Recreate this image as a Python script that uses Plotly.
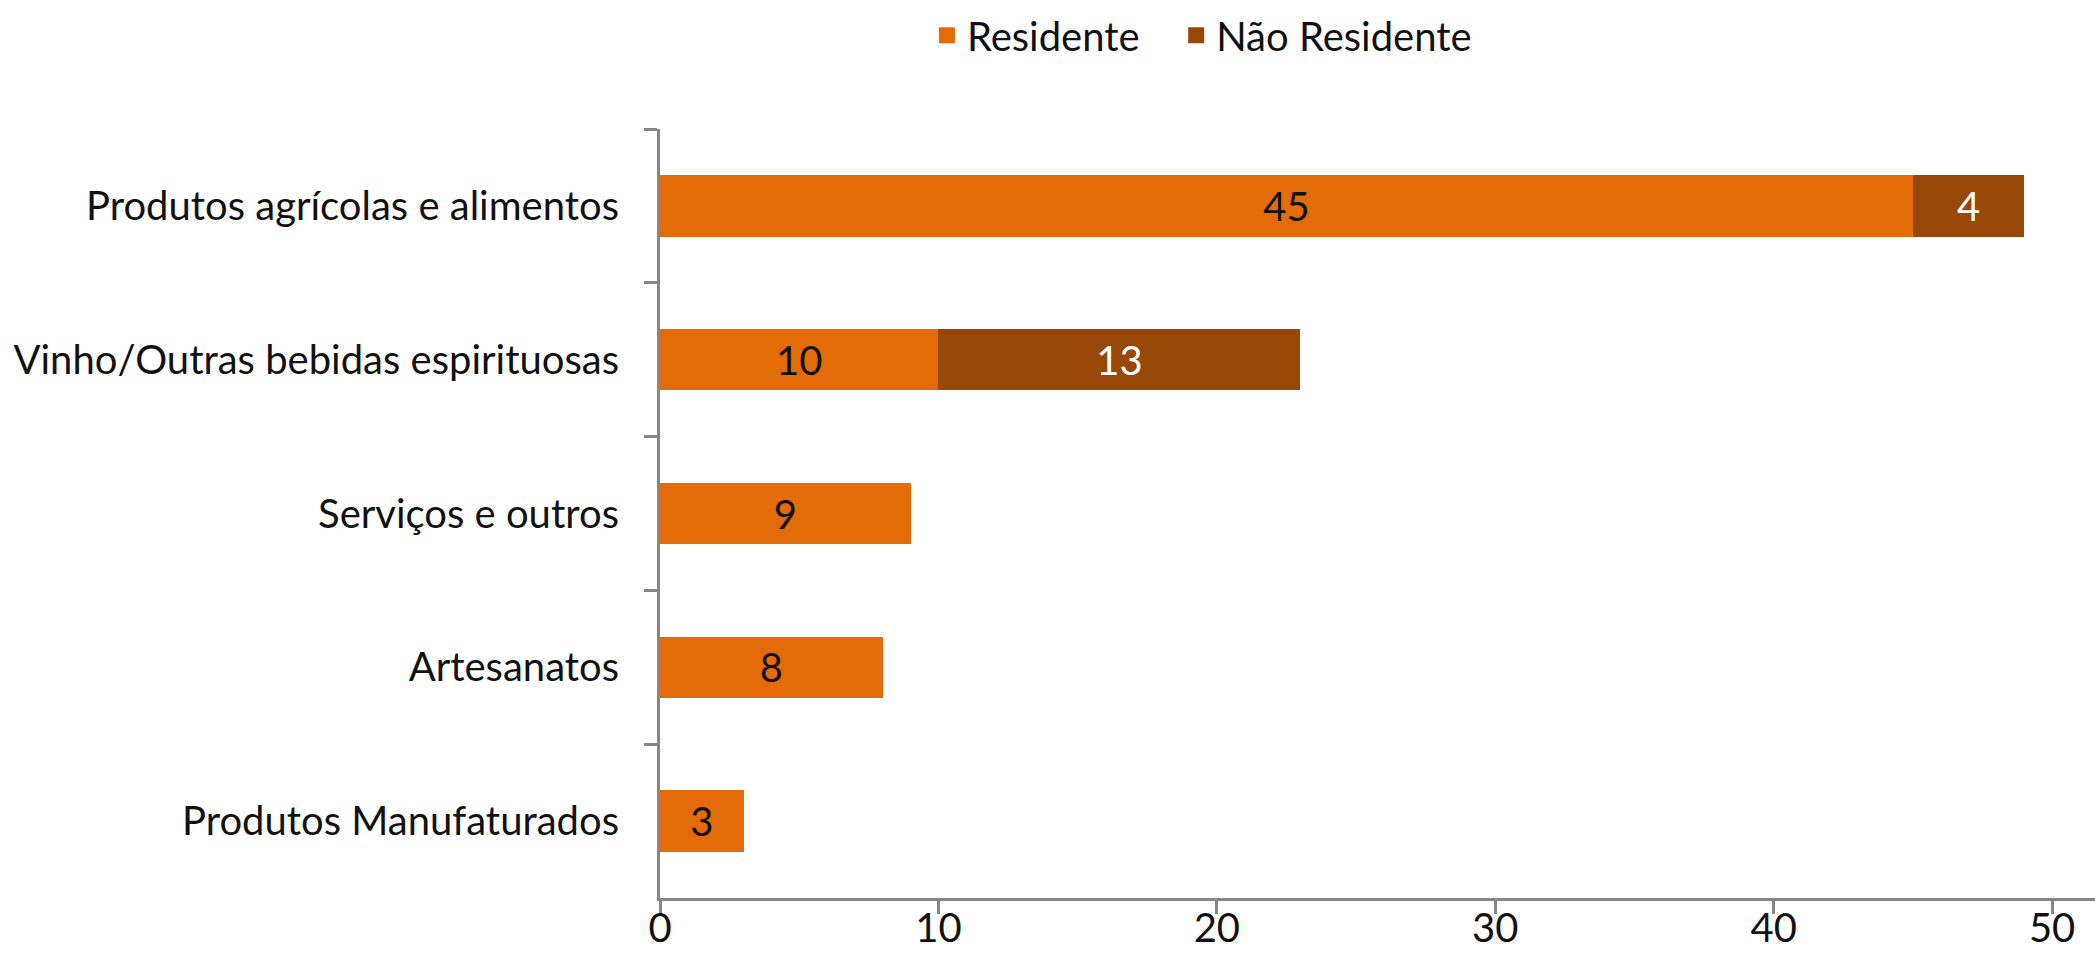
import plotly.graph_objects as go

categories = ["Produtos agrícolas e alimentos", "Vinho/Outras bebidas espirituosas",
              "Serviços e outros", "Artesanatos", "Produtos Manufaturados"]
residente = [45, 10, 9, 8, 3]
nao_residente = [4, 13, None, None, None]
series_names = ["Residente", "Não Residente"]
series_colors = ["#E36C09", "#974806"]
label_colors = ["#111111", "#FFFFFF"]
x_ticks = [0, 10, 20, 30, 40, 50]

FONT = "Lato"
FS = 40
AXIS_COLOR = "#868686"
legend_ids = ["legend", "legend2"]
legend_x = [0.186, 0.3597]

fig = go.Figure()
for name, vals, col, lcol in zip(series_names, [residente, nao_residente], series_colors, label_colors):
    fig.add_trace(go.Bar(
        y=categories, x=vals, name=name, orientation="h", showlegend=False,
        legendgroup=name,
        marker=dict(color=col, line=dict(width=0)),
        text=vals, texttemplate="%{x}", textposition="inside",
        insidetextanchor="middle", constraintext="none",
        textfont=dict(family=FONT, size=FS, color=lcol),
    ))
# legend entries with larger square swatches, each in its own legend box
for name, col, lid in zip(series_names, series_colors, legend_ids):
    fig.add_trace(go.Scatter(
        x=[None], y=[None], mode="markers", name=name, legendgroup=name, legend=lid,
        marker=dict(symbol="square", size=16, color=col), showlegend=True,
    ))

legend_common = dict(orientation="h", xanchor="left", y=1.122, yanchor="middle",
                     font=dict(family=FONT, size=FS, color="#111111"),
                     itemwidth=30, bgcolor="rgba(0,0,0,0)")

fig.update_layout(
    barmode="stack",
    bargap=0.6,
    width=2095, height=972,
    margin=dict(l=660, r=0, t=129, b=74),
    paper_bgcolor="white", plot_bgcolor="white",
    font=dict(family=FONT, size=FS, color="#111111"),
    showlegend=True,
    legend=dict(x=legend_x[0], **legend_common),
    legend2=dict(x=legend_x[1], **legend_common),
    xaxis=dict(range=[0, 51.54], tickvals=x_ticks, ticktext=[str(v) for v in x_ticks],
               showgrid=False, zeroline=False, showline=True, linecolor=AXIS_COLOR,
               linewidth=3, ticks="outside", ticklen=13, tickwidth=3, tickcolor=AXIS_COLOR,
               ticklabelstandoff=-20,
               tickfont=dict(family=FONT, size=FS, color="#111111")),
    yaxis=dict(categoryorder="array", categoryarray=categories, autorange="reversed",
               showgrid=False, zeroline=False, showline=True, linecolor=AXIS_COLOR,
               linewidth=3, ticks="outside", ticklen=13, tickwidth=3, tickcolor=AXIS_COLOR,
               tickson="boundaries", ticklabelstandoff=30,
               tickfont=dict(family=FONT, size=FS, color="#111111")),
)

fig.write_html("out.html", config={"displayModeBar": False},
               post_script="document.body.style.margin='0';document.body.style.overflow='hidden';")
